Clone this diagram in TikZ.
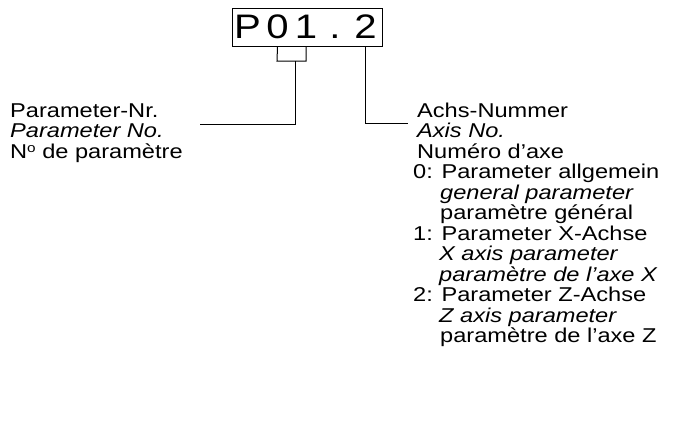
\documentclass[tikz,border=0pt]{standalone}
\usepackage{fontspec}
\setmainfont{Liberation Sans}[FakeStretch=1.18]
\newcommand{\supo}{\raisebox{0.3em}{\fontsize{13}{13}\selectfont o}}
\begin{document}
\begin{tikzpicture}[x=1pt,y=-1pt,
  lbl/.style={anchor=base west, inner sep=0pt, font=\fontsize{20}{22}\selectfont},
  chr/.style={anchor=base, inner sep=0pt, font=\fontsize{34}{40}\selectfont},
  frame/.style={draw, line width=1pt, inner sep=0pt, minimum width=150pt, minimum height=38pt},
  conn/.style={draw, line width=1pt}]
\useasboundingbox (0,0) rectangle (682,447);
% display box
\node[frame] (box) at (307,27) {};
\node[chr] (c1) at (247.5,38) {P};
\node[chr] (c2) at (277.5,38) {0};
\node[chr] (c3) at (306,38) {1};
\node[chr] (c4) at (335,38) {.};
\node[chr] (c5) at (365.5,38) {2};
% left labels
\node[lbl] (l1) at (10,117) {Parameter-Nr.};
\node[lbl] (l2) at (10,137.5) {\itshape Parameter No.};
\node[lbl] (l3) at (10,158) {N\supo{} de paramètre};
% right labels
\node[lbl] (r1) at (417,117) {Achs-Nummer};
\node[lbl] (r2) at (417,137.5) {\itshape Axis No.};
\node[lbl] (r3) at (417,158) {Numéro d’axe};
\node[lbl] (r4) at (413,178.5) {0: Parameter allgemein};
\node[lbl] (r5) at (440,199) {\itshape general parameter};
\node[lbl] (r6) at (440,219.5) {paramètre général};
\node[lbl] (r7) at (413,240) {1: Parameter X-Achse};
\node[lbl] (r8) at (439,260.5) {\itshape X axis parameter};
\node[lbl] (r9) at (439,281) {\itshape paramètre de l’axe X};
\node[lbl] (r10) at (413,301.5) {2: Parameter Z-Achse};
\node[lbl] (r11) at (439,322) {\itshape Z axis parameter};
\node[lbl] (r12) at (440,342.5) {paramètre de l’axe Z};
% connectors
\coordinate (bl) at (277,61);
\coordinate (br) at (306,61);
\coordinate (stem) at (295,61);
\coordinate (lend) at (200,124);
\coordinate (rend) at (408,123);
\draw[conn] (c2 |- box.south) -- (bl) -- (br) -- (c3.center |- box.south);
\draw[conn] (stem) |- (lend);
\draw[conn] (c5 |- box.south) |- (rend);
\end{tikzpicture}
\end{document}
